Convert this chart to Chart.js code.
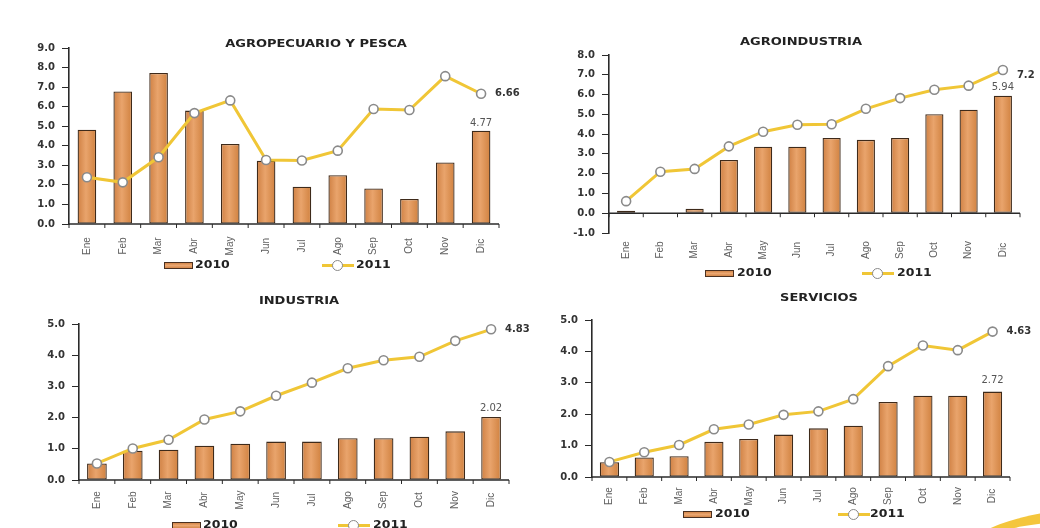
<!DOCTYPE html>
<html><head><meta charset="utf-8">
<script src="https://cdn.jsdelivr.net/npm/chart.js@4/dist/chart.umd.min.js"></script>
<style>
body{margin:0;background:#fff;width:1040px;height:528px;overflow:hidden;position:relative;font-family:'DejaVu Sans',sans-serif}
.panel{position:absolute}
.title{position:absolute;font:bold 10px 'DejaVu Sans',sans-serif;color:#222;white-space:nowrap;transform:translate(-50%,-50%) scaleX(1.3)}
.lg{position:absolute;height:12px}
.swbar{position:absolute;width:27px;height:5px;background:linear-gradient(#D4874A,#EBA771,#D4874A);border:1.5px solid #4a3020;top:2px;left:0}
.swline{position:absolute;width:32px;height:3px;background:#F0C636;top:4px;left:0}
.swline i{position:absolute;left:10px;top:-4px;border-radius:50%;background:#fff;border:1.5px solid #888;box-sizing:border-box;width:11px;height:11px}
.lgt{position:absolute;font:bold 10px 'DejaVu Sans',sans-serif;color:#222;top:-1px;transform:scaleX(1.25);transform-origin:left center;white-space:nowrap}
.swoosh{position:absolute;left:970px;top:504px;width:360px;height:90px;border-radius:50%;border-top:13px solid #F4C63C;box-sizing:border-box}
</style></head>
<body>
<div class="swoosh"></div>
<div class="panel" style="left:0;top:0;width:520px;height:280px"><canvas id="c1"></canvas></div>
<div class="panel" style="left:520px;top:0;width:520px;height:280px"><canvas id="c2"></canvas></div>
<div class="panel" style="left:520px;top:280px;width:520px;height:248px"><canvas id="c4"></canvas></div>
<div class="panel" style="left:0;top:280px;width:545px;height:248px"><canvas id="c3"></canvas></div>

<div class="title" style="left:316px;top:43px">AGROPECUARIO Y PESCA</div>
<div class="title" style="left:801px;top:41px">AGROINDUSTRIA</div>
<div class="title" style="left:299px;top:300px">INDUSTRIA</div>
<div class="title" style="left:819px;top:297px">SERVICIOS</div>

<div class="lg" style="left:164px;top:260px"><div class="swbar"></div><div class="lgt" style="left:31px">2010</div></div>
<div class="lg" style="left:322px;top:260px"><div class="swline"><i></i></div><div class="lgt" style="left:34px">2011</div></div>
<div class="lg" style="left:705px;top:268px"><div class="swbar"></div><div class="lgt" style="left:32px">2010</div></div>
<div class="lg" style="left:862px;top:268px"><div class="swline"><i></i></div><div class="lgt" style="left:35px">2011</div></div>
<div class="lg" style="left:172px;top:520px"><div class="swbar"></div><div class="lgt" style="left:31px">2010</div></div>
<div class="lg" style="left:338px;top:520px"><div class="swline"><i></i></div><div class="lgt" style="left:35px">2011</div></div>
<div class="lg" style="left:683px;top:509px"><div class="swbar"></div><div class="lgt" style="left:32px">2010</div></div>
<div class="lg" style="left:838px;top:509px"><div class="swline"><i></i></div><div class="lgt" style="left:32px">2011</div></div>

<script>
const months = ['Ene','Feb','Mar','Abr','May','Jun','Jul','Ago','Sep','Oct','Nov','Dic'];

const agro2010 = [4.82, 6.78, 7.72, 5.80, 4.09, 3.24, 1.91, 2.49, 1.82, 1.28, 3.15, 4.77];
const agro2011 = [2.39, 2.13, 3.41, 5.67, 6.32, 3.27, 3.25, 3.75, 5.88, 5.83, 7.56, 6.66];
const agroind2010 = [0.13, 0.03, 0.22, 2.69, 3.36, 3.36, 3.80, 3.71, 3.80, 5.01, 5.23, 5.94];
const agroind2011 = [0.61, 2.10, 2.24, 3.38, 4.12, 4.47, 4.50, 5.28, 5.82, 6.24, 6.45, 7.24];
const ind2010 = [0.53, 0.94, 0.97, 1.10, 1.16, 1.23, 1.23, 1.34, 1.34, 1.39, 1.56, 2.02];
const ind2011 = [0.53, 1.01, 1.29, 1.94, 2.20, 2.70, 3.12, 3.58, 3.84, 3.95, 4.46, 4.83];
const serv2010 = [0.47, 0.62, 0.66, 1.12, 1.21, 1.35, 1.55, 1.63, 2.39, 2.59, 2.59, 2.72];
const serv2011 = [0.48, 0.79, 1.02, 1.52, 1.67, 1.98, 2.09, 2.48, 3.53, 4.19, 4.04, 4.63];

const agroRange = [0, 9];
const agroindRange = [-1, 8];
const indRange = [0, 5];
const servRange = [0, 5];

const barEndLabels = ['4.77', '5.94', '2.02', '2.72'];
const lineEndLabels = ['6.66', '7.2', '4.83', '4.63'];

const zeroAxis = {
  id: 'zeroAxis',
  afterDatasetsDraw(chart) {
    const {ctx, scales: {x, y}} = chart;
    const y0 = y.getPixelForValue(0);
    const n = chart.data.labels.length;
    ctx.save();
    ctx.strokeStyle = '#2a2a2a';
    ctx.lineWidth = 1.6;
    ctx.beginPath();
    ctx.moveTo(x.left, y0); ctx.lineTo(x.right, y0);
    ctx.stroke();
    ctx.lineWidth = 1;
    ctx.beginPath();
    for (let i = 0; i <= n; i++) {
      const px = x.left + (x.right - x.left) * i / n;
      ctx.moveTo(px, y0); ctx.lineTo(px, y0 + 4);
    }
    ctx.stroke();
    ctx.restore();
  }
};

const monthLabels = {
  id: 'monthLabels',
  afterDraw(chart, args, opts) {
    const {ctx, scales: {x}} = chart;
    ctx.save();
    ctx.fillStyle = '#606060';
    ctx.font = '10px "Liberation Sans", Arial, sans-serif';
    ctx.textAlign = 'center';
    ctx.textBaseline = 'middle';
    const yc = x.top + opts.dy;
    chart.data.labels.forEach((lab, i) => {
      const px = x.getPixelForValue(i);
      ctx.save();
      ctx.translate(px, yc);
      ctx.rotate(-Math.PI / 2);
      ctx.fillText(lab, 0, 0);
      ctx.restore();
    });
    ctx.restore();
  }
};

const endLabels = {
  id: 'endLabels',
  afterDraw(chart, args, opts) {
    const {ctx} = chart;
    const barMeta = chart.getDatasetMeta(0);
    const lineMeta = chart.getDatasetMeta(1);
    const bar = barMeta.data[barMeta.data.length - 1];
    const pt = lineMeta.data[lineMeta.data.length - 1];
    ctx.save();
    ctx.textBaseline = 'middle';
    ctx.font = '10px "DejaVu Sans", sans-serif';
    ctx.fillStyle = '#555';
    ctx.textAlign = 'center';
    ctx.fillText(opts.bar, bar.x, bar.y - opts.barDy);
    ctx.font = 'bold 10px "DejaVu Sans", sans-serif';
    ctx.fillStyle = '#333';
    ctx.textAlign = 'left';
    ctx.fillText(opts.line, pt.x + 14, pt.y + (opts.lineDy || 0));
    ctx.restore();
  }
};

function barFill(context) {
  const chart = context.chart;
  const x = chart.scales && chart.scales.x;
  if (!x || context.dataIndex === undefined || !isFinite(x.left)) return '#DB8B4C';
  const cx = x.getPixelForValue(context.dataIndex);
  const half = (x.width / chart.data.labels.length) * context.dataset.barPercentage / 2;
  if (!isFinite(cx) || !isFinite(half)) return '#DB8B4C';
  const g = chart.ctx.createLinearGradient(cx - half, 0, cx + half, 0);
  g.addColorStop(0, '#CF8043');
  g.addColorStop(0.45, '#E9A46C');
  g.addColorStop(1, '#D0813F');
  return g;
}

function makeChart(id, bars, line, range, geo, lbl) {
  new Chart(document.getElementById(id), {
    data: {
      labels: months,
      datasets: [
        {
          type: 'bar', label: '2010', data: bars, order: 1,
          backgroundColor: barFill, borderColor: '#3e2a1a', borderWidth: 1.3,
          borderSkipped: false,
          categoryPercentage: 1, barPercentage: geo.barPct
        },
        {
          type: 'line', label: '2011', data: line, order: 0,
          borderColor: '#F0C636', borderWidth: 3,
          pointRadius: 4.5, pointBackgroundColor: '#fff', pointBorderColor: '#8a8a8a', pointBorderWidth: 1.6,
          tension: 0
        }
      ]
    },
    options: {
      responsive: true, maintainAspectRatio: false, animation: false,
      layout: {padding: {top: geo.top, right: geo.right, left: 0, bottom: 0}},
      plugins: {
        legend: {display: false}, title: {display: false}, tooltip: {enabled: false},
        endLabels: lbl,
        monthLabels: {dy: geo.labDy}
      },
      scales: {
        x: {
          offset: true,
          grid: {display: false},
          border: {display: false},
          ticks: {display: false},
          afterFit(s) { s.height = geo.xh; }
        },
        y: {
          min: range[0], max: range[1],
          grid: {drawOnChartArea: false, drawTicks: true, tickLength: 7, color: '#2a2a2a', lineWidth: 1},
          border: {display: true, color: '#2a2a2a', width: 1.6},
          ticks: {
            stepSize: 1, padding: 7, color: '#333',
            font: {family: '"DejaVu Sans", sans-serif', size: 10, weight: 'bold'},
            callback: v => Number(v).toFixed(1)
          },
          afterFit(s) { s.width = geo.yw; }
        }
      }
    },
    plugins: [zeroAxis, monthLabels, endLabels]
  });
}

makeChart('c1', agro2010, agro2011, agroRange,
  {top: 48, right: 21, yw: 69, xh: 56, labDy: 22, barPct: 0.52},
  {bar: barEndLabels[0], line: lineEndLabels[0], barDy: 7});
makeChart('c2', agroind2010, agroind2011, agroindRange,
  {top: 55, right: 20, yw: 89, xh: 47, labDy: 17, barPct: 0.53},
  {bar: barEndLabels[1], line: lineEndLabels[1], barDy: 8, lineDy: 5});
makeChart('c3', ind2010, ind2011, indRange,
  {top: 44, right: 36, yw: 79, xh: 48, labDy: 20, barPct: 0.55},
  {bar: barEndLabels[2], line: lineEndLabels[2], barDy: 9});
makeChart('c4', serv2010, serv2011, servRange,
  {top: 40, right: 30, yw: 72, xh: 51, labDy: 19, barPct: 0.55},
  {bar: barEndLabels[3], line: lineEndLabels[3], barDy: 11});
</script>
</body></html>
